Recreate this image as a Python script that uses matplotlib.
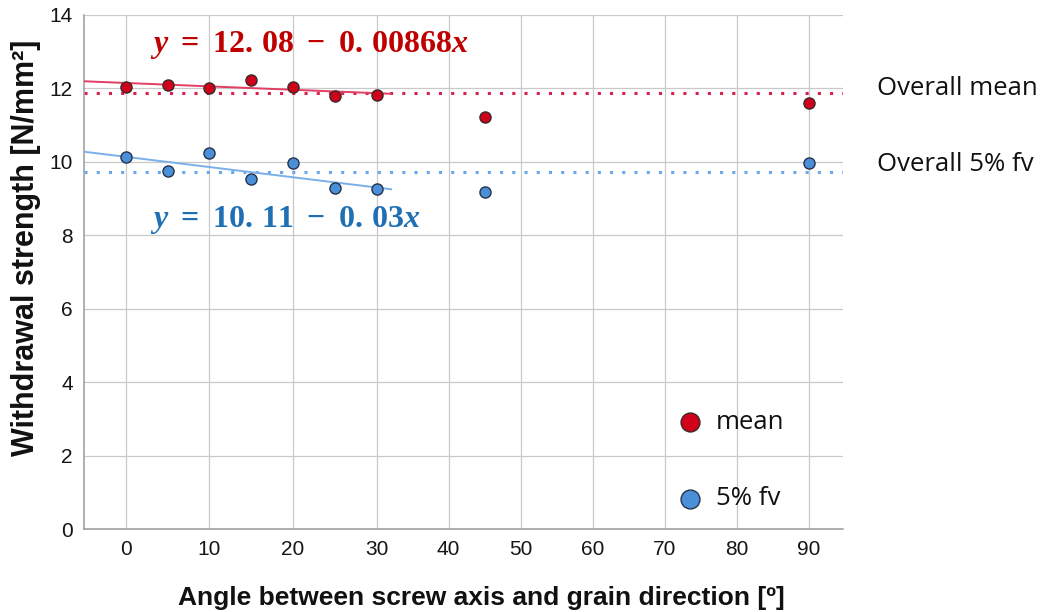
import numpy as np
import matplotlib
matplotlib.use('Agg')
from matplotlib import pyplot as plt

# Data
angles = [0, 5, 10, 15, 20, 25, 30, 45, 90]
mean_vals = [12.04, 12.10, 12.02, 12.22, 12.05, 11.79, 11.83, 11.22, 11.60]
fv_vals = [10.14, 9.75, 10.23, 9.54, 9.96, 9.30, 9.25, 9.19, 9.98]

overall_mean = 11.87
overall_fv = 9.73

# Regression lines as drawn (fit over 0-30 degrees)
mean_fit = (12.15, -0.0092)
fv_fit = (10.14, -0.0276)
fit_range = [-5, 32]

mean_eq = r'$y\ =\ 12.\,08\ -\ 0.\,00868x$'
fv_eq = r'$y\ =\ 10.\,11\ -\ 0.\,03x$'

plt.rcParams['mathtext.fontset'] = 'custom'
plt.rcParams['mathtext.rm'] = 'Liberation Serif:bold'
plt.rcParams['mathtext.it'] = 'Liberation Serif:bold:italic'
plt.rcParams['mathtext.bf'] = 'Liberation Serif:bold'
plt.rcParams['font.family'] = ['Liberation Sans', 'DejaVu Sans']

# The original x axis is stretched between 0 and 30
k = 8.36 / 7.21


def fwd(x):
    x = np.asarray(x, dtype=float)
    return np.where(x <= 30, x * k, 30 * k + (x - 30))


def inv(u):
    u = np.asarray(u, dtype=float)
    return np.where(u <= 30 * k, u / k, u - 30 * k + 30)


fig = plt.figure(figsize=(10.4, 6.12), dpi=100)
ax = fig.add_axes([0.0808, 0.1351, 0.7298, 0.8404])
ax.set_xscale('function', functions=(fwd, inv))

red = '#d0021b'
blue = '#4a90d9'

ax.axhline(overall_mean, color='#d81e4a', lw=2.2, ls=(0, (1, 3)), zorder=2)
ax.axhline(overall_fv, color='#6aa6ea', lw=2.2, ls=(0, (1, 3)), zorder=2)

xf = np.array(fit_range, dtype=float)
ax.plot(xf, mean_fit[0] + mean_fit[1] * xf, color='#e23d62', lw=1.4, zorder=3)
ax.plot(xf, fv_fit[0] + fv_fit[1] * xf, color='#7ab0ea', lw=1.4, zorder=3)

ax.scatter(angles, mean_vals, s=64, color=red, edgecolor='#3a2a2a', lw=1.0,
           zorder=4, label='mean')
ax.scatter(angles, fv_vals, s=64, color=blue, edgecolor='#26324a', lw=1.0,
           zorder=4, label='5% fv')

ax.set_xlim(-5, 94.7)
ax.set_ylim(0, 14)
ax.set_xticks(range(0, 100, 10))
ax.set_yticks(range(0, 16, 2))
ax.grid(True, color='#c9c9c9', lw=0.9)
ax.set_axisbelow(True)
for s in ['top', 'right']:
    ax.spines[s].set_visible(False)
for s in ['left', 'bottom']:
    ax.spines[s].set_color('#9a9a9a')
    ax.spines[s].set_linewidth(1.1)
ax.tick_params(length=0, labelsize=15, labelcolor='#151515')
ax.tick_params(axis='y', pad=8)
ax.tick_params(axis='x', pad=8)

ax.set_xlabel('Angle between screw axis and grain direction [º]', fontsize=19,
              fontweight='bold', color='#111111')
ax.set_ylabel('Withdrawal strength [N/mm²]', fontsize=22, fontweight='bold',
              color='#111111')
ax.xaxis.set_label_coords(0.524, -0.11)
ax.yaxis.set_label_coords(-0.057, 0.547)

ax.text(0.087, 13.18, mean_eq, transform=ax.get_yaxis_transform(),
        color='#c00000', fontsize=23, va='center', ha='left')
ax.text(0.087, 8.42, fv_eq, transform=ax.get_yaxis_transform(),
        color='#1f6fb5', fontsize=23, va='center', ha='left')

ax.text(1.045, overall_mean + 0.12, 'Overall mean', transform=ax.get_yaxis_transform(),
        fontsize=18.5, family=['Open Sans', 'DejaVu Sans'], va='center', ha='left',
        color='#111111')
ax.text(1.045, overall_fv + 0.2, 'Overall 5% fv', transform=ax.get_yaxis_transform(),
        fontsize=18.5, family=['Open Sans', 'DejaVu Sans'], va='center', ha='left',
        color='#111111')

leg = ax.legend(loc='lower left', bbox_to_anchor=(0.734, -0.01), frameon=False,
                markerscale=1.7, labelspacing=2.0, handletextpad=0.0,
                prop={'family': ['Open Sans', 'DejaVu Sans'], 'size': 18.5})
for t in leg.get_texts():
    t.set_color('#111111')

fig.savefig('out.png', dpi=100)
